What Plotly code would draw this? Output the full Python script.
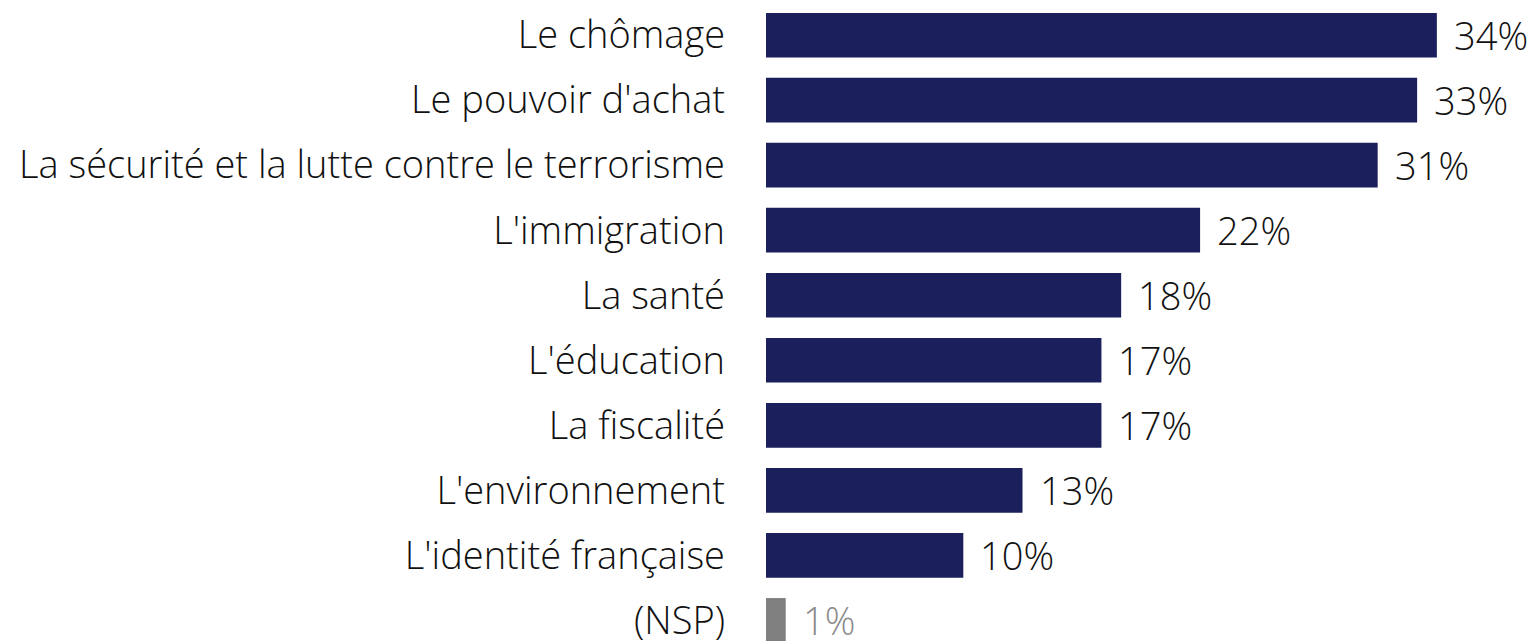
import plotly.graph_objects as go

categories = ["Le chômage", "Le pouvoir d'achat", "La sécurité et la lutte contre le terrorisme",
              "L'immigration", "La santé", "L'éducation", "La fiscalité",
              "L'environnement", "L'identité française", "(NSP)"]
values = [34, 33, 31, 22, 18, 17, 17, 13, 10, 1]
bar_colors = ["#1b1f5c"] * 9 + ["#808080"]
text_colors = ["#111111"] * 9 + ["#8a8a8a"]

FONT = "Open Sans"
FS = 38

fig = go.Figure()
fig.add_trace(go.Bar(
    y=categories, x=values, orientation="h",
    marker=dict(color=bar_colors, line=dict(width=0)),
    hoverinfo="skip",
))
for c, v, tc in zip(categories, values, text_colors):
    fig.add_annotation(x=v, y=c, text=f"{v}%", showarrow=False,
                       xanchor="left", yanchor="middle", xshift=15,
                       font=dict(family=FONT, size=FS, color=tc, weight=300))

fig.update_layout(
    width=1536, height=641,
    margin=dict(l=758, r=0, t=0, b=0),
    paper_bgcolor="white", plot_bgcolor="white",
    bargap=0.313, showlegend=False,
    font=dict(family=FONT, size=FS, color="#111111", weight=300),
)
fig.update_xaxes(range=[0, 39.43], visible=False)
fig.update_yaxes(categoryorder="array", categoryarray=categories,
                 range=[9.440, -0.340], showgrid=False, showline=False,
                 ticks="", ticklabelstandoff=40,
                 tickfont=dict(family=FONT, size=FS, color="#111111", weight=300))

fig.write_html("out.html")
